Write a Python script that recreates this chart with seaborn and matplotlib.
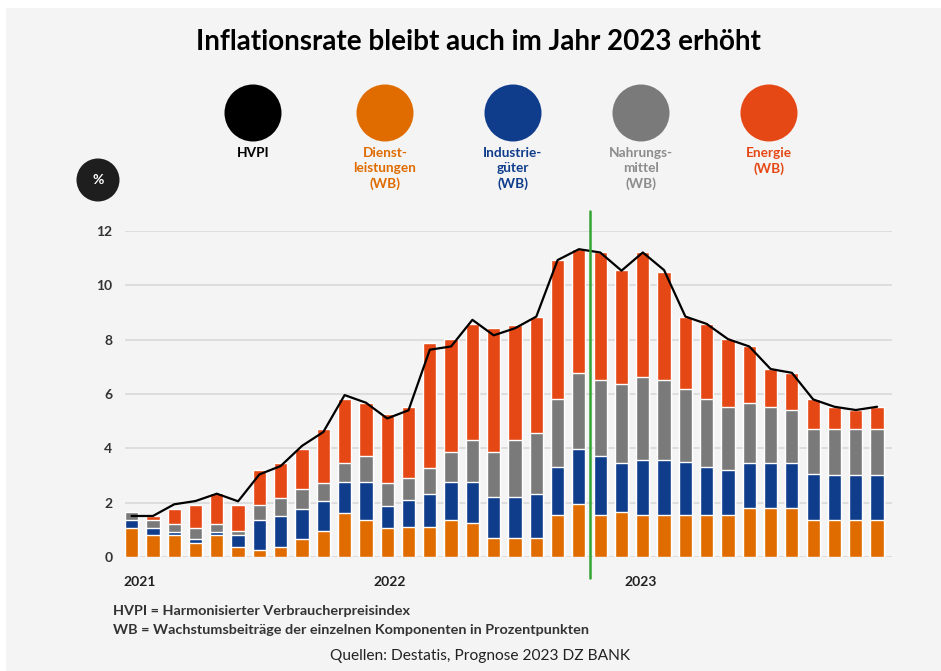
import numpy as np
import pandas as pd
import matplotlib.pyplot as plt
import seaborn as sns
from matplotlib.patches import Ellipse, Rectangle

# monthly values Jan 2021 - Dec 2023
dienstleistungen = [1.08, 0.81, 0.81, 0.53, 0.81, 0.38, 0.25, 0.38, 0.67, 0.96, 1.63, 1.35,
                    1.08, 1.10, 1.10, 1.37, 1.25, 0.70, 0.70, 0.70, 1.53, 1.95, 1.53, 1.65,
                    1.53, 1.53, 1.53, 1.53, 1.53, 1.79, 1.79, 1.79, 1.38, 1.38, 1.38, 1.38]
industrie = [0.27, 0.27, 0.11, 0.12, 0.12, 0.43, 1.10, 1.12, 1.11, 1.09, 1.12, 1.40,
             0.81, 0.98, 1.22, 1.38, 1.50, 1.50, 1.50, 1.62, 1.77, 2.04, 2.19, 1.81,
             2.05, 2.05, 1.95, 1.80, 1.68, 1.67, 1.67, 1.67, 1.67, 1.65, 1.65, 1.65]
nahrung = [0.31, 0.27, 0.31, 0.43, 0.30, 0.15, 0.56, 0.68, 0.71, 0.67, 0.70, 0.97,
           0.83, 0.81, 0.94, 1.12, 1.55, 1.67, 2.10, 2.26, 2.50, 2.79, 2.79, 2.89,
           3.05, 2.93, 2.71, 2.47, 2.32, 2.22, 2.07, 1.94, 1.65, 1.67, 1.67, 1.67]
energie = [0.00, 0.16, 0.55, 0.83, 1.11, 0.95, 1.28, 1.27, 1.50, 1.98, 2.35, 1.96,
           2.53, 2.63, 4.62, 4.15, 4.28, 4.55, 4.25, 4.27, 5.13, 4.55, 4.70, 4.21,
           4.58, 3.99, 2.66, 2.78, 2.49, 2.07, 1.39, 1.38, 1.10, 0.83, 0.71, 0.83]
hvpi = [1.51, 1.51, 1.94, 2.06, 2.33, 2.05, 3.04, 3.35, 4.09, 4.60, 5.96, 5.68,
        5.10, 5.40, 7.63, 7.75, 8.73, 8.16, 8.42, 8.85, 10.93, 11.33, 11.21, 10.54,
        11.21, 10.56, 8.85, 8.58, 8.02, 7.75, 6.92, 6.78, 5.80, 5.53, 5.41, 5.53]
years = ['2021', '2022', '2023']

c_dl = '#e06c00'
c_ind = '#0f3d8c'
c_nah = '#7a7a7a'
c_en = '#e64815'
c_green = '#33a532'
bg = '#f4f4f4'

df = pd.DataFrame({'monat': np.arange(len(hvpi)),
                   'D': dienstleistungen, 'I': industrie, 'N': nahrung, 'E': energie})
df['cum_D'] = df['D']
df['cum_I'] = df['cum_D'] + df['I']
df['cum_N'] = df['cum_I'] + df['N']
df['cum_E'] = df['cum_N'] + df['E']

sns.set_theme(style='white')
plt.rcParams['font.family'] = ['Lato', 'DejaVu Sans']

W, H = 941, 671
fig = plt.figure(figsize=(W / 100, H / 100), dpi=100, facecolor='white')


def fx(x):
    return x / W


def fy(y):
    return 1 - y / H


fig.add_artist(Rectangle((fx(6), 0), fx(W) - fx(6), fy(8), transform=fig.transFigure,
                         facecolor=bg, edgecolor='none', zorder=-10))

ax = fig.add_axes([fx(125), fy(557), fx(892) - fx(125), fy(231) - fy(557)])
ax.set_facecolor(bg)

# stacked bars: draw cumulative totals from top to bottom
for col, color in [('cum_E', c_en), ('cum_N', c_nah), ('cum_I', c_ind), ('cum_D', c_dl)]:
    sns.barplot(data=df, x='monat', y=col, color=color, width=0.62, saturation=1,
                ax=ax, zorder=3)

sns.lineplot(x=df['monat'], y=hvpi, color='black', linewidth=1.6, ax=ax, zorder=5)

ax.plot([21.5, 21.5], [-0.77, 12.73], color=c_green, linewidth=1.8, clip_on=False, zorder=6)

ax.set_ylim(0, 12)
ax.set_xlim(-0.31, 35.7)
ax.set_yticks([0, 2, 4, 6, 8, 10, 12])
ax.set_yticklabels(['0', '2', '4', '6', '8', '10', '12'], fontweight='bold', color='#333333',
                   fontsize=10)
ax.yaxis.grid(True, color='#d9d9d9', linewidth=1.2)
ax.set_axisbelow(True)
ax.tick_params(axis='y', length=0, pad=9)
ax.set_xticks([0.39, 12.1, 23.9])
ax.set_xticklabels(years, fontweight='bold', color='#222222', fontsize=10)
ax.tick_params(axis='x', length=0, pad=14)
ax.set_xlabel('')
ax.set_ylabel('')
for s in ax.spines.values():
    s.set_visible(False)

# title
fig.text(fx(478), fy(42), 'Inflationsrate bleibt auch im Jahr 2023 erhöht', ha='center',
         va='center', fontsize=20, fontweight='bold', color='black')

# legend circles with labels
legend_items = [
    (253, 'black', 'HVPI', 'black'),
    (385, c_dl, 'Dienst-\nleistungen\n(WB)', c_dl),
    (513, c_ind, 'Industrie-\ngüter\n(WB)', c_ind),
    (641, c_nah, 'Nahrungs-\nmittel\n(WB)', '#8c8c8c'),
    (769, c_en, 'Energie\n(WB)', c_en),
]
for x, color, label, tcolor in legend_items:
    fig.add_artist(Ellipse((fx(x), fy(113)), 57 / W, 57 / H, transform=fig.transFigure,
                           facecolor=color, edgecolor='none'))
    fig.text(fx(x), fy(147), label, ha='center', va='top', fontsize=9.8,
             fontweight='bold', color=tcolor, linespacing=1.3)

# percent badge
fig.add_artist(Ellipse((fx(98), fy(180)), 43 / W, 43 / H, transform=fig.transFigure,
                       facecolor='#1e1e1e', edgecolor='none'))
fig.text(fx(98), fy(180), '%', ha='center', va='center', fontsize=10, color='white',
         fontweight='bold')

# footnotes
fig.text(fx(113), fy(611), 'HVPI = Harmonisierter Verbraucherpreisindex', ha='left',
         va='center', fontsize=10.4, fontweight='bold', color='#333333')
fig.text(fx(113), fy(630), 'WB = Wachstumsbeiträge der einzelnen Komponenten in Prozentpunkten',
         ha='left', va='center', fontsize=10.4, fontweight='bold', color='#333333')
fig.text(fx(480), fy(656), 'Quellen: Destatis, Prognose 2023 DZ BANK', ha='center',
         va='center', fontsize=11.2, color='#222222')

fig.savefig('out.png', dpi=100, facecolor='white')
